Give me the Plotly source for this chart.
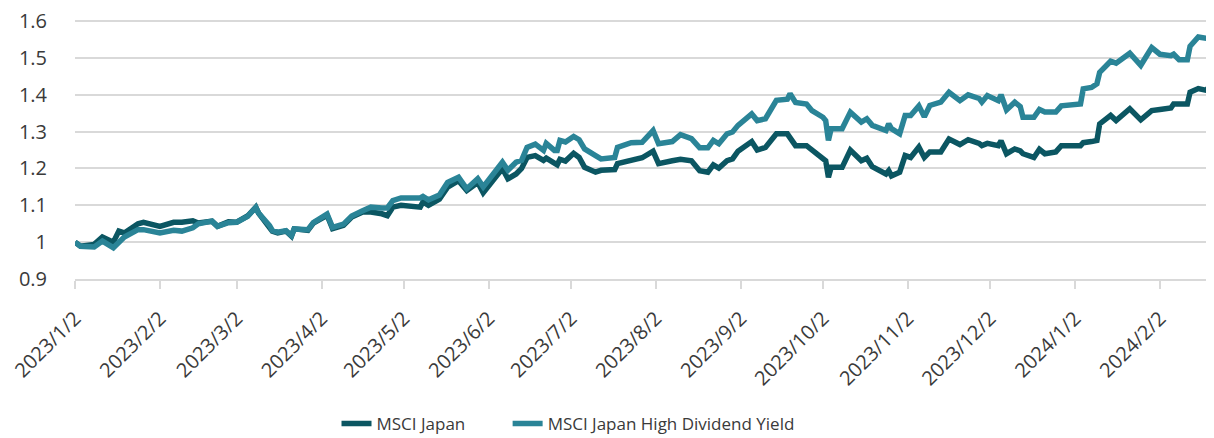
import plotly.graph_objects as go

dates = [
    "2023-01-02", "2023-01-04", "2023-01-09", "2023-01-12", "2023-01-16", "2023-01-18", "2023-01-20",
    "2023-01-25", "2023-01-27", "2023-02-02", "2023-02-07", "2023-02-10", "2023-02-14", "2023-02-16",
    "2023-02-21", "2023-02-23", "2023-02-27", "2023-03-02", "2023-03-06", "2023-03-09", "2023-03-10",
    "2023-03-14", "2023-03-15", "2023-03-17", "2023-03-20", "2023-03-22", "2023-03-23", "2023-03-28",
    "2023-03-30", "2023-04-04", "2023-04-06", "2023-04-10", "2023-04-13", "2023-04-17", "2023-04-20",
    "2023-04-24", "2023-04-26", "2023-04-28", "2023-05-01", "2023-05-08", "2023-05-09", "2023-05-11",
    "2023-05-15", "2023-05-18", "2023-05-22", "2023-05-25", "2023-05-29", "2023-05-31", "2023-06-05",
    "2023-06-07", "2023-06-09", "2023-06-12", "2023-06-14", "2023-06-16", "2023-06-19", "2023-06-22",
    "2023-06-23", "2023-06-26", "2023-06-27", "2023-06-28", "2023-06-30", "2023-07-03", "2023-07-05",
    "2023-07-07", "2023-07-11", "2023-07-13", "2023-07-18", "2023-07-19", "2023-07-24", "2023-07-28",
    "2023-08-01", "2023-08-03", "2023-08-08", "2023-08-11", "2023-08-15", "2023-08-18", "2023-08-21",
    "2023-08-23", "2023-08-25", "2023-08-28", "2023-08-30", "2023-09-01", "2023-09-06", "2023-09-08",
    "2023-09-11", "2023-09-15", "2023-09-19", "2023-09-20", "2023-09-22", "2023-09-26", "2023-09-28",
    "2023-10-02", "2023-10-03", "2023-10-04", "2023-10-05", "2023-10-09", "2023-10-12", "2023-10-16",
    "2023-10-18", "2023-10-20", "2023-10-25", "2023-10-26", "2023-10-27", "2023-10-30", "2023-11-01",
    "2023-11-03", "2023-11-06", "2023-11-08", "2023-11-10", "2023-11-14", "2023-11-17", "2023-11-21",
    "2023-11-24", "2023-11-28", "2023-11-29", "2023-12-01", "2023-12-05", "2023-12-06", "2023-12-08",
    "2023-12-11", "2023-12-13", "2023-12-14", "2023-12-18", "2023-12-20", "2023-12-22", "2023-12-26",
    "2023-12-28", "2024-01-04", "2024-01-05", "2024-01-08", "2024-01-10", "2024-01-11", "2024-01-15",
    "2024-01-17", "2024-01-22", "2024-01-26", "2024-01-30", "2024-02-02", "2024-02-06", "2024-02-07",
    "2024-02-09", "2024-02-12", "2024-02-13", "2024-02-16", "2024-02-19", "2024-02-21",
]

msci_japan = [
    1.000, 0.989, 0.994, 1.014, 1.000, 1.030, 1.025,
    1.050, 1.054, 1.043, 1.054, 1.054, 1.058, 1.052,
    1.057, 1.043, 1.055, 1.054, 1.071, 1.095, 1.079,
    1.043, 1.030, 1.025, 1.030, 1.016, 1.036, 1.032,
    1.052, 1.073, 1.037, 1.046, 1.068, 1.082, 1.082,
    1.077, 1.072, 1.095, 1.100, 1.095, 1.109, 1.100,
    1.117, 1.149, 1.167, 1.140, 1.162, 1.134, 1.180,
    1.200, 1.172, 1.185, 1.200, 1.230, 1.235, 1.222,
    1.228, 1.213, 1.210, 1.225, 1.220, 1.241, 1.230,
    1.203, 1.190, 1.195, 1.197, 1.213, 1.222, 1.229,
    1.247, 1.213, 1.221, 1.225, 1.221, 1.194, 1.190,
    1.210, 1.201, 1.221, 1.226, 1.247, 1.273, 1.250,
    1.257, 1.294, 1.294, 1.283, 1.262, 1.262, 1.250,
    1.230, 1.221, 1.176, 1.203, 1.203, 1.250, 1.221,
    1.228, 1.205, 1.185, 1.194, 1.180, 1.190, 1.235,
    1.230, 1.258, 1.230, 1.245, 1.245, 1.280, 1.265,
    1.278, 1.268, 1.262, 1.268, 1.262, 1.275, 1.240,
    1.253, 1.248, 1.240, 1.230, 1.252, 1.240, 1.245,
    1.262, 1.262, 1.270, 1.273, 1.276, 1.321, 1.344,
    1.330, 1.362, 1.332, 1.357, 1.360, 1.364, 1.375,
    1.375, 1.375, 1.407, 1.417, 1.412, 1.434,
]

msci_japan_hdy = [
    1.000, 0.989, 0.987, 1.003, 0.985, 1.000, 1.014,
    1.034, 1.034, 1.025, 1.032, 1.030, 1.039, 1.050,
    1.057, 1.043, 1.053, 1.054, 1.070, 1.094, 1.079,
    1.045, 1.032, 1.027, 1.031, 1.018, 1.036, 1.034,
    1.053, 1.076, 1.040, 1.049, 1.071, 1.085, 1.095,
    1.093, 1.093, 1.113, 1.120, 1.120, 1.124, 1.115,
    1.128, 1.162, 1.176, 1.145, 1.172, 1.150, 1.195,
    1.217, 1.195, 1.217, 1.222, 1.257, 1.266, 1.249,
    1.268, 1.249, 1.249, 1.276, 1.272, 1.287, 1.278,
    1.253, 1.235, 1.226, 1.230, 1.257, 1.270, 1.271,
    1.303, 1.267, 1.273, 1.292, 1.281, 1.256, 1.256,
    1.276, 1.267, 1.294, 1.299, 1.317, 1.348, 1.330,
    1.335, 1.385, 1.388, 1.403, 1.379, 1.375, 1.357,
    1.339, 1.330, 1.276, 1.308, 1.308, 1.353, 1.326,
    1.335, 1.317, 1.303, 1.321, 1.308, 1.294, 1.344,
    1.344, 1.370, 1.340, 1.371, 1.380, 1.407, 1.384,
    1.400, 1.390, 1.380, 1.398, 1.384, 1.400, 1.359,
    1.380, 1.368, 1.339, 1.339, 1.360, 1.353, 1.353,
    1.370, 1.375, 1.416, 1.420, 1.430, 1.461, 1.491,
    1.486, 1.513, 1.480, 1.528, 1.510, 1.506, 1.510,
    1.495, 1.495, 1.532, 1.557, 1.553, 1.558,
]

x_tick_vals = [
    "2023-01-02", "2023-02-02", "2023-03-02", "2023-04-02", "2023-05-02", "2023-06-02", "2023-07-02",
    "2023-08-02", "2023-09-02", "2023-10-02", "2023-11-02", "2023-12-02", "2024-01-02", "2024-02-02",
]
x_tick_text = [
    "2023/1/2", "2023/2/2", "2023/3/2", "2023/4/2", "2023/5/2", "2023/6/2", "2023/7/2",
    "2023/8/2", "2023/9/2", "2023/10/2", "2023/11/2", "2023/12/2", "2024/1/2", "2024/2/2",
]
y_tick_vals = [0.9, 1.0, 1.1, 1.2, 1.3, 1.4, 1.5, 1.6]
y_tick_text = ["0.9", "1", "1.1", "1.2", "1.3", "1.4", "1.5", "1.6"]

DARK = "#0B5662"
LIGHT = "#2A8497"
FONT = "Open Sans"
TXT = "#3A3A3A"
GRID = "#D9D9D9"

fig = go.Figure()
fig.add_trace(go.Scatter(x=dates, y=msci_japan, mode="lines", name="MSCI Japan",
                         line=dict(color=DARK, width=5.5), legend="legend"))
fig.add_trace(go.Scatter(x=dates, y=msci_japan_hdy, mode="lines", name="MSCI Japan High Dividend Yield",
                         line=dict(color=LIGHT, width=5.5), legend="legend2"))

legend_common = dict(orientation="h", xanchor="left", y=-0.56, yanchor="middle",
                     font=dict(family=FONT, size=17, color=TXT), bgcolor="rgba(0,0,0,0)")

# the page body adds an 8px offset, so the figure is sized to fit the window
fig.update_layout(
    width=1206, height=430,
    margin=dict(l=67, r=2, t=12, b=159, autoexpand=False),
    paper_bgcolor="white", plot_bgcolor="white",
    font=dict(family=FONT, size=20, color=TXT),
    showlegend=True,
    legend=dict(x=0.230, **legend_common),
    legend2=dict(x=0.3805, **legend_common),
    xaxis=dict(
        type="date", range=[dates[0], dates[-1]], automargin=False,
        tickmode="array", tickvals=x_tick_vals, ticktext=x_tick_text,
        tickangle=-45, showgrid=False, showline=True, linecolor=GRID, linewidth=1.5,
        ticks="outside", ticklen=8, tickcolor=GRID, tickwidth=1.5, ticklabelstandoff=10,
        tickfont=dict(family=FONT, size=20, color=TXT), zeroline=False,
    ),
    yaxis=dict(
        range=[0.9, 1.603], tickmode="array", tickvals=y_tick_vals, ticktext=y_tick_text,
        automargin=False, ticklabeloverflow="allow",
        showgrid=True, gridcolor=GRID, gridwidth=1.5, showline=False, zeroline=False,
        ticks="outside", ticklen=23, tickcolor="rgba(0,0,0,0)",
        tickfont=dict(family=FONT, size=20, color=TXT),
    ),
)

fig.write_html("out.html")
